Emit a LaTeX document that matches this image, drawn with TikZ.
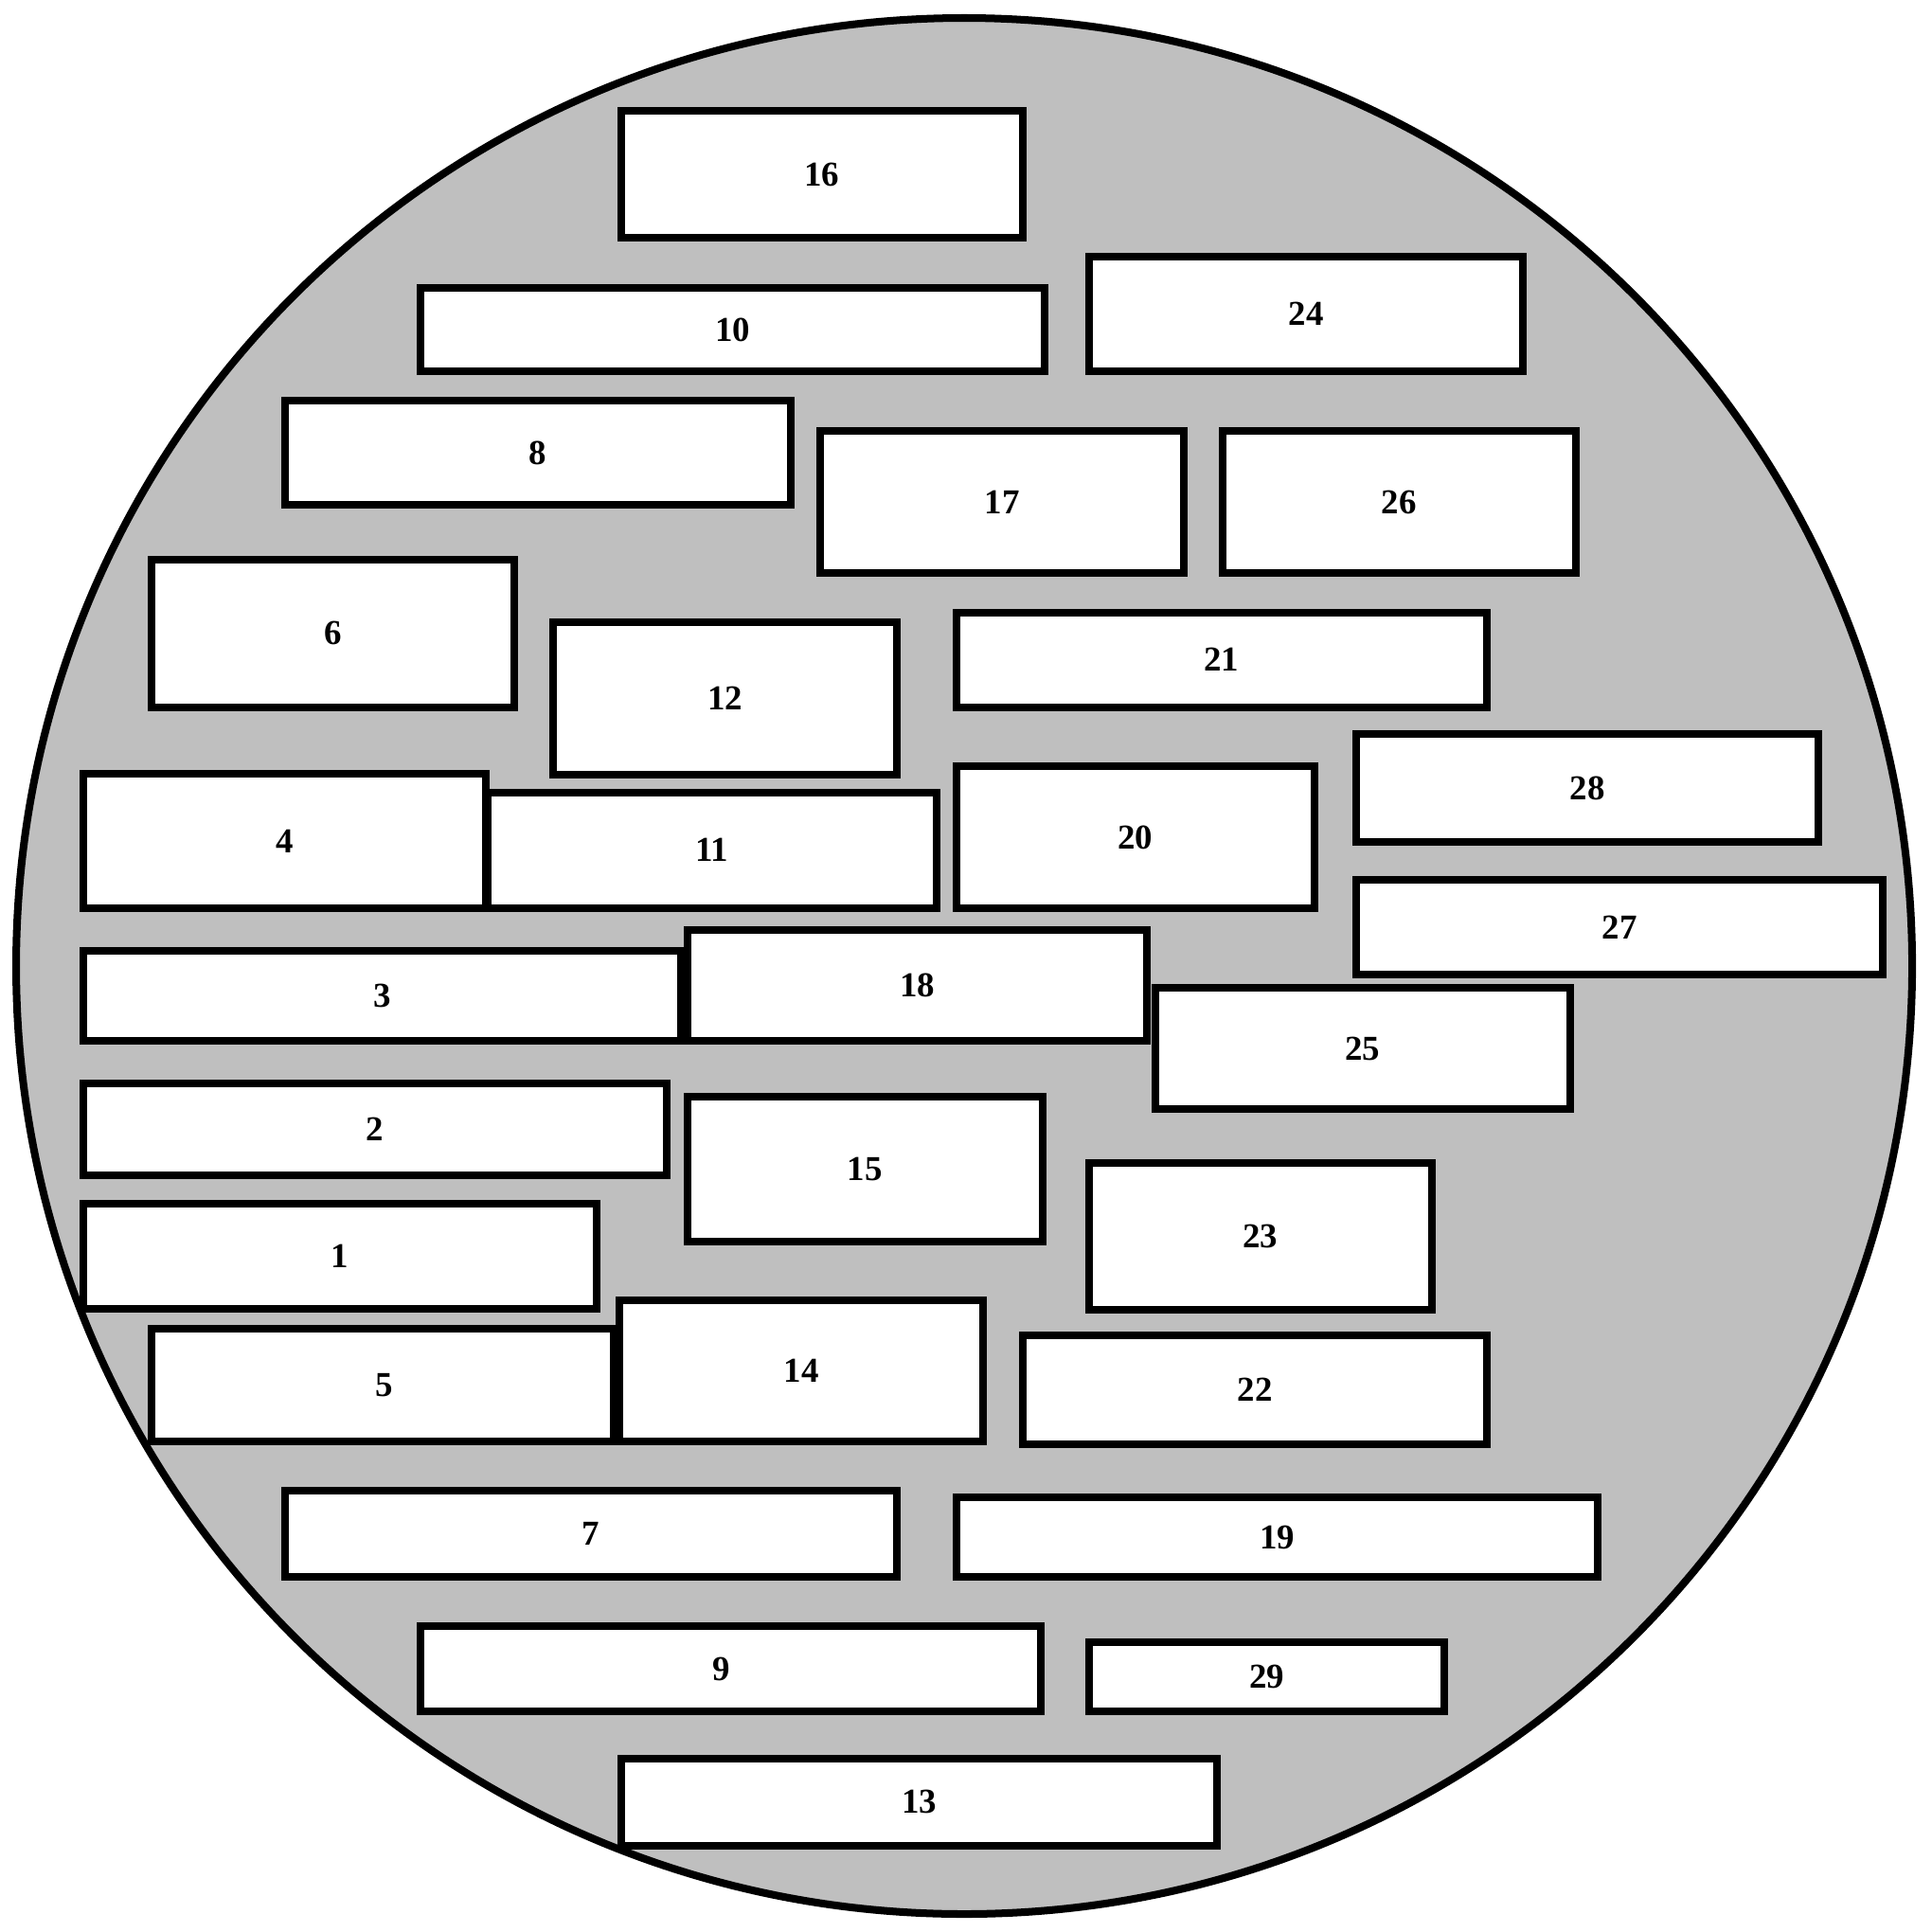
\documentclass[tikz,border=0pt]{standalone}
\usepackage{fontspec}
\setmainfont{Liberation Serif}
\definecolor{bggray}{RGB}{191,191,191}
\tikzset{
  boxshape/.style={draw=black, fill=white, line width=2.28pt, line join=miter},
  boxlabel/.style={font=\bfseries\fontsize{10.5}{12}\selectfont, inner sep=0pt},
  disc/.style={draw=black, fill=bggray, line width=2.28pt}
}
\newcommand{\mybox}[6][0]{%
  \draw[boxshape] (#3,#4) rectangle (#5,#6);
  \node[boxlabel] (n#2) at ({(#3+#5)/2+#1},{(#4+#6)/2}) {#2};
}
\begin{document}
\begin{tikzpicture}[x=0.0130102cm, y=-0.0130102cm]
\useasboundingbox (0,0) rectangle (1568,1568);
\draw[disc] (782.5,784) circle [radius=769.4];
\mybox{16}{504}{90}{830}{193}
\mybox{10}{341}{234}{848}{301}
\mybox{24}{884}{208}{1236}{301}
\mybox{8}{231}{325}{642}{410}
\mybox{17}{666}{350}{961}{465}
\mybox{26}{992}{350}{1279}{465}
\mybox{6}{123}{454}{417}{574}
\mybox{12}{449}{505}{728}{629}
\mybox{21}{776}{497}{1207}{574}
\mybox{28}{1101}{596}{1476}{683}
\mybox{4}{68}{628}{394}{737}
\mybox{11}{396}{643}{760}{737}
\mybox{20}{776}{622}{1067}{737}
\mybox{27}{1101}{714}{1528}{791}
\mybox{3}{68}{772}{553}{845}
\mybox{18}{558}{755}{931}{845}
\mybox{25}{938}{802}{1274}{900}
\mybox{2}{68}{879}{541}{954}
\mybox{15}{558}{890}{846}{1008}
\mybox{23}{884}{944}{1162}{1063}
\mybox{1}{68}{977}{484}{1062}
\mybox[1]{5}{123}{1078}{498}{1170}
\mybox{14}{503}{1055}{798}{1170}
\mybox{22}{830}{1084}{1207}{1172}
\mybox{7}{231}{1210}{728}{1280}
\mybox{19}{776}{1215}{1297}{1280}
\mybox[-7.5]{9}{341}{1320}{845}{1389}
\mybox{29}{884}{1333}{1172}{1389}
\mybox{13}{504}{1427}{988}{1498}
\end{tikzpicture}
\end{document}
